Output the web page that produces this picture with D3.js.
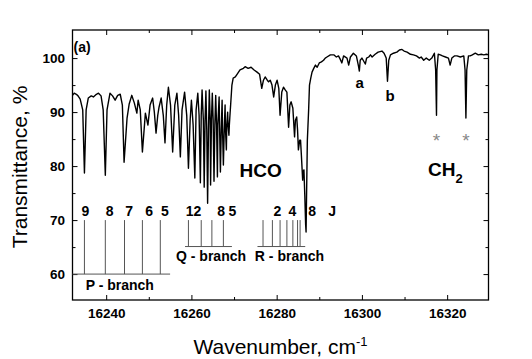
<!DOCTYPE html>
<html>
<head>
<meta charset="utf-8">
<script src="https://cdn.jsdelivr.net/npm/d3@7"></script>
<style>
body { margin: 0; background: #fff; }
text { font-family: "Liberation Sans", Arial, sans-serif; }
</style>
</head>
<body>
<script>
// spectrum
var wavenumber = [
	// P branch
	16232.1, 16232.5, 16233.0, 16233.4, 16233.9, 16234.5, 16234.9, 16235.3, 16235.8, 16236.5,
	16237.0, 16237.7, 16238.2, 16238.8, 16239.3, 16239.8, 16240.2, 16240.9, 16241.5, 16242.1,
	16242.7, 16243.3, 16243.8, 16244.2, 16244.9, 16245.4, 16246.0, 16246.6, 16247.2, 16247.5,
	16248.0, 16248.5, 16249.2, 16249.8, 16250.3, 16250.9, 16251.3, 16251.7, 16252.1, 16252.4,
	16252.9, 16253.4, 16253.8, 16254.2, 16254.6, 16255.1, 16255.6, 16256.1, 16256.6, 16257.0,
	16257.4, 16257.8, 16258.4, 16258.9, 16259.3,
	// Q branch
	16259.7, 16260.0, 16260.4, 16260.8, 16261.1, 16261.5, 16261.8, 16262.1, 16262.3, 16262.5,
	16262.8, 16263.0, 16263.2, 16263.4, 16263.6, 16263.8, 16264.0, 16264.2, 16264.4, 16264.5,
	16264.7, 16264.9, 16265.1, 16265.3, 16265.5, 16265.7, 16265.9, 16266.1, 16266.2, 16266.5,
	16266.6, 16266.8, 16267.0, 16267.2, 16267.3, 16267.5, 16267.7, 16267.9, 16268.0, 16268.2,
	16268.3, 16268.5, 16268.6, 16268.8, 16268.9, 16269.0, 16269.2, 16269.5, 16269.8,
	// R branch and beyond
	16270.3, 16270.7, 16271.4, 16272.2, 16272.6, 16273.3, 16274.0, 16274.7, 16275.4, 16276.0,
	16276.5, 16276.9, 16277.3, 16277.8, 16278.1, 16278.5, 16278.9, 16279.3, 16279.7, 16280.1,
	16280.5, 16280.8, 16281.2, 16281.6, 16282.0, 16282.4, 16282.8, 16283.1, 16283.4, 16283.8,
	16284.2, 16284.4, 16284.7, 16284.9, 16285.1, 16285.4, 16285.6, 16285.8, 16286.1, 16286.2,
	16286.4, 16286.6, 16286.8, 16286.9, 16287.0, 16287.2, 16287.5, 16287.7, 16288.0, 16288.3,
	16288.7, 16289.1, 16289.5, 16290.0, 16290.5, 16291.0, 16291.4, 16291.8, 16292.6, 16293.4,
	16294.0, 16294.5, 16294.9, 16295.3, 16295.7, 16296.5, 16296.9, 16297.3, 16298.0, 16298.7,
	16299.2, 16299.4, 16299.6, 16300.0, 16300.3, 16300.8, 16301.1, 16301.6, 16302.0, 16302.4,
	16303.1, 16303.8, 16304.7, 16305.2, 16305.7, 16306.0, 16306.3, 16306.7, 16307.4, 16308.2,
	16308.8, 16309.4, 16309.9, 16310.6, 16311.4, 16312.1, 16312.8, 16313.5, 16313.9, 16314.5,
	16315.1, 16315.8, 16316.4, 16317.0, 16317.3, 16317.5, 16317.6, 16317.9, 16318.4, 16318.9,
	16319.6, 16320.3, 16320.7, 16321.1, 16321.7, 16322.3, 16323.1, 16323.9, 16324.2, 16324.4,
	16324.6, 16325.0, 16325.4, 16325.9, 16326.6, 16327.3, 16328.0, 16328.6, 16329.2, 16329.8
];
var transmittance = [
	93.1, 93.5, 93.3, 93.0, 92.4, 90.4, 78.7, 90.4, 92.6, 93.0,
	92.8, 93.3, 93.5, 93.0, 90.4, 78.3, 90.4, 93.5, 93.0, 92.2,
	93.1, 93.3, 91.3, 80.7, 88.9, 91.5, 93.1, 91.7, 89.8, 92.2,
	90.4, 82.6, 89.8, 87.6, 91.3, 92.6, 90.0, 86.1, 89.4, 90.9,
	92.6, 89.4, 84.3, 91.3, 94.6, 91.3, 82.6, 91.3, 93.5, 89.4,
	81.7, 90.4, 93.7, 89.4, 79.6,

	88.5, 92.2, 87.6, 77.8, 90.4, 93.5, 89.4, 76.9, 89.4, 94.1,
	88.5, 76.1, 88.5, 93.9, 86.7, 73.1, 86.7, 94.1, 88.5, 76.5,
	88.5, 93.5, 88.5, 77.2, 87.6, 93.1, 87.6, 78.0, 87.6, 92.8,
	87.6, 78.9, 86.7, 92.2, 86.7, 80.2, 86.7, 91.3, 86.7, 83.0,
	87.6, 90.0, 87.6, 85.7, 87.6, 88.9, 91.3, 95.0, 96.3,

	96.5, 97.0, 97.8, 98.1, 98.4, 98.1, 98.3, 97.8, 97.4, 97.0,
	94.4, 95.9, 96.5, 95.9, 95.6, 95.9, 95.0, 92.8, 95.0, 95.9,
	94.4, 89.4, 93.7, 94.6, 94.1, 93.7, 87.2, 91.3, 91.9, 90.7,
	85.4, 88.5, 89.1, 86.7, 83.0, 84.8, 84.8, 82.0, 77.4, 78.9,
	79.3, 74.6, 69.1, 67.8, 73.7, 84.8, 90.4, 95.0, 96.3, 97.4,
	98.1, 98.7, 98.3, 99.1, 99.3, 99.6, 100.0, 100.2, 100.6, 100.6,
	100.2, 100.4, 99.8, 99.1, 100.4, 100.0, 98.7, 100.2, 100.9, 100.4,
	98.5, 97.6, 99.6, 100.0, 99.6, 98.9, 100.0, 100.2, 100.6, 100.2,
	100.7, 101.1, 101.3, 100.9, 100.0, 95.7, 99.6, 100.6, 100.9, 101.1,
	101.5, 101.6, 101.3, 101.1, 100.7, 100.6, 100.4, 100.0, 100.2, 99.6,
	100.0, 99.6, 100.0, 100.9, 97.8, 89.4, 97.8, 100.7, 100.6, 100.4,
	100.2, 100.0, 98.7, 100.0, 100.4, 100.4, 100.2, 100.4, 97.8, 88.9,
	97.8, 100.4, 100.4, 100.6, 100.9, 100.6, 100.7, 100.6, 100.7, 100.6
];

// rotational line assignments
var pLines = [16234.9, 16239.8, 16244.3, 16248.5, 16252.7];
var pLabels = ["9", "8", "7", "6", "5"];
var pLabelPos = [16235.1, 16240.8, 16245.4, 16250.1, 16253.8];
var qLines = [16259.3, 16262.3, 16264.8, 16267.5];
var qLabels = ["12", "8", "5"];
var qLabelPos = [16260.5, 16267.0, 16269.6];
var rLines = [16276.8, 16279.0, 16280.8, 16282.4, 16283.8, 16284.9, 16285.5];
var rLabels = ["2", "4", "8", "J"];
var rLabelPos = [16280.2, 16283.7, 16288.3, 16293.0];

// CH2 lines marked with asterisks, and lines a, b
var ch2Lines = [16317.5, 16324.4];
var markLabels = ["a", "b"];
var markPos = [16299.5, 16306.6];

var xTicks = [16240, 16260, 16280, 16300, 16320];
var xMinor = [16250, 16270, 16290, 16310];
var yTicks = [60, 70, 80, 90, 100];
var yMinor = [65, 75, 85, 95];

var width = 532, height = 359;
var plotLeft = 72.5, plotRight = 488.5, plotTop = 30, plotBottom = 300;

var x = d3.scaleLinear().domain([16232.1, 16329.7]).range([plotLeft, plotRight]);
var y = d3.scaleLinear().domain([55.2, 105.2]).range([plotBottom, plotTop]);

var svg = d3.select('body').append('svg')
	.attr('width', width)
	.attr('height', height);

// axes, ticks inward, mirrored on top and right
function styleAxis(g) {
	g.selectAll('path').remove();
	g.selectAll('line').attr('stroke', '#000').attr('stroke-width', 1);
	g.selectAll('text').attr('font-size', '13.5px').attr('font-weight', 'bold').attr('fill', '#000');
}
svg.append('g').attr('transform', 'translate(0,' + plotBottom + ')')
	.call(d3.axisBottom(x).tickValues(xTicks).tickSize(-5).tickPadding(8.5).tickFormat(d3.format('d')))
	.call(styleAxis);
svg.append('g').attr('transform', 'translate(0,' + plotBottom + ')')
	.call(d3.axisBottom(x).tickValues(xMinor).tickSize(-3).tickFormat(''))
	.call(styleAxis);
svg.append('g').attr('transform', 'translate(0,' + plotTop + ')')
	.call(d3.axisTop(x).tickValues(xTicks).tickSize(-5).tickFormat(''))
	.call(styleAxis);
svg.append('g').attr('transform', 'translate(0,' + plotTop + ')')
	.call(d3.axisTop(x).tickValues(xMinor).tickSize(-3).tickFormat(''))
	.call(styleAxis);
svg.append('g').attr('transform', 'translate(' + plotLeft + ',0)')
	.call(d3.axisLeft(y).tickValues(yTicks).tickSize(-5).tickPadding(7.5))
	.call(styleAxis);
svg.append('g').attr('transform', 'translate(' + plotLeft + ',0)')
	.call(d3.axisLeft(y).tickValues(yMinor).tickSize(-3).tickFormat(''))
	.call(styleAxis);
svg.append('g').attr('transform', 'translate(' + plotRight + ',0)')
	.call(d3.axisRight(y).tickValues(yTicks).tickSize(-5).tickFormat(''))
	.call(styleAxis);
svg.append('g').attr('transform', 'translate(' + plotRight + ',0)')
	.call(d3.axisRight(y).tickValues(yMinor).tickSize(-3).tickFormat(''))
	.call(styleAxis);

svg.append('rect')
	.attr('x', plotLeft).attr('y', plotTop)
	.attr('width', plotRight - plotLeft).attr('height', plotBottom - plotTop)
	.attr('fill', 'none').attr('stroke', '#000').attr('stroke-width', 1.3);

// assignment sticks
function branch(lines, yTop, yBase, x0, x1, labels, labelPos) {
	var g = svg.append('g').attr('stroke', '#555').attr('stroke-width', 1);
	g.selectAll('line.stick').data(lines).enter().append('line')
		.attr('x1', function(d){ return x(d); })
		.attr('x2', function(d){ return x(d); })
		.attr('y1', y(yTop))
		.attr('y2', y(yBase));
	g.append('line')
		.attr('x1', x(x0)).attr('x2', x(x1))
		.attr('y1', y(yBase)).attr('y2', y(yBase));
	svg.selectAll(null).data(labels).enter().append('text')
		.attr('x', function(d, i){ return x(labelPos[i]); })
		.attr('y', y(yTop) - 4)
		.attr('text-anchor', 'middle')
		.attr('font-size', '14px').attr('font-weight', 'bold')
		.text(function(d){ return d; });
}
branch(pLines, 70, 60, 16232.1, 16255.0, pLabels, pLabelPos);
branch(qLines, 70, 65.1, 16258.5, 16269.5, qLabels, qLabelPos);
branch(rLines, 70, 65.1, 16275.5, 16286.7, rLabels, rLabelPos);

var line = d3.line()
	.x(function(d, i){ return x(wavenumber[i]); })
	.y(function(d){ return y(d); });

svg.append('path')
	.datum(transmittance)
	.attr('d', line)
	.attr('fill', 'none')
	.attr('stroke', '#000')
	.attr('stroke-width', 1.4)
	.attr('stroke-linejoin', 'round');

// text annotations
function label(t, px, py, size, weight, anchor) {
	return svg.append('text')
		.attr('x', px).attr('y', py)
		.attr('font-size', size).attr('font-weight', weight)
		.attr('text-anchor', anchor || 'start')
		.text(t);
}
label('(a)', 73.5, 52, '14px', 'bold');
label('HCO', x(16271.3), y(78.0), '19px', 'bold');
var ch = label('CH', x(16315.5), y(78.2), '19px', 'bold');
ch.append('tspan').attr('font-size', '13px').attr('dy', 7).text('2');
label('P - branch', x(16243.2), y(57.1), '14px', 'bold', 'middle');
label('Q - branch', x(16264.6), y(62.4), '14px', 'bold', 'middle');
label('R - branch', x(16283.0), y(62.4), '14px', 'bold', 'middle');

svg.selectAll('text.mark').data(markLabels).enter().append('text')
	.attr('class', 'mark')
	.attr('x', function(d, i){ return x(markPos[i]); })
	.attr('y', function(d, i){ return i === 0 ? 88 : 101; })
	.attr('text-anchor', 'middle')
	.attr('font-size', '15px').attr('font-weight', 'bold')
	.text(function(d){ return d; });

svg.selectAll('text.star').data(ch2Lines).enter().append('text')
	.attr('class', 'star')
	.attr('x', function(d){ return x(d); })
	.attr('y', y(83.6))
	.attr('text-anchor', 'middle')
	.attr('font-size', '19px')
	.attr('fill', '#888')
	.text('*');

// axis titles
svg.append('text')
	.attr('transform', 'translate(27,' + ((plotTop + plotBottom) / 2 + 2) + ') rotate(-90)')
	.attr('text-anchor', 'middle')
	.attr('font-size', '21px')
	.text('Transmittance, %');

var xt = svg.append('text')
	.attr('x', (plotLeft + plotRight) / 2)
	.attr('y', 354)
	.attr('text-anchor', 'middle')
	.attr('font-size', '21px')
	.text('Wavenumber, cm');
xt.append('tspan').attr('font-size', '13px').attr('dy', -8).text('-1');
</script>
</body>
</html>
